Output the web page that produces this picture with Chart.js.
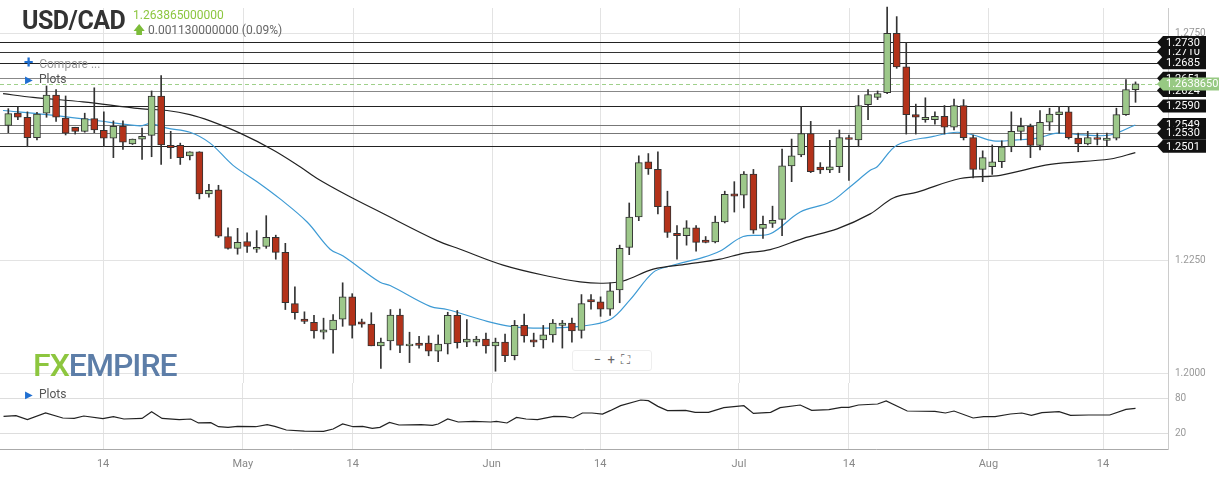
<!DOCTYPE html>
<html>
<head>
<meta charset="utf-8">
<script src="https://cdn.jsdelivr.net/npm/chart.js@4"></script>
<style>
  body{margin:0;background:#fff;font-family:Roboto,"Open Sans",sans-serif;}
  #wrap{position:relative;width:1219px;height:479px;overflow:hidden;}
  canvas{position:absolute;left:0;}
  #top{top:-5px;}
  #bot{top:370px;}
  .lbl{position:absolute;white-space:nowrap;}
</style>
</head>
<body>
<div id="wrap">
  <canvas id="top" width="1219" height="401"></canvas>
  <canvas id="bot" width="1219" height="109"></canvas>
  <div class="lbl" style="left:22px;top:6px;font-size:25px;font-weight:bold;color:#333;letter-spacing:-0.5px">USD/CAD</div>
  <div class="lbl" style="left:133px;top:8px;font-size:12px;color:#8cc63f">1.263865000000</div>
  <div class="lbl" style="left:133px;top:21px;font-size:12px;color:#666"><span style="color:#7cbc3a">&#129093;</span> 0.001130000000 (0.09%)</div>
  <div class="lbl" style="left:24px;top:52px;font-size:12px;color:#999"><span style="color:#1f6fd1;font-size:17px;font-weight:bold">+</span>&nbsp; Compare ...</div>
  <div class="lbl" style="left:25px;top:72px;font-size:12px;color:#555"><span style="color:#1f6fd1;font-size:10px">&#9654;</span>&nbsp; Plots</div>
  <div class="lbl" style="left:33px;top:346px;font-size:32px;font-weight:500;letter-spacing:-1px"><span style="color:#8dc63f">FX</span><span style="color:#5d7ea8">EMPIRE</span></div>
  <div class="lbl" style="left:572px;top:350px;width:78px;height:19px;border:1px solid #eee;border-radius:3px;background:#fff;font-size:13px;color:#666;text-align:center;line-height:18px">&minus; &nbsp;+ &nbsp;&#9974;</div>
  <div class="lbl" style="left:25px;top:387px;font-size:12px;color:#555"><span style="color:#1f6fd1;font-size:10px">&#9654;</span>&nbsp; Plots</div>
</div>
<script>
// candles, one per trading day (index 0..118)
const opens = [
  1.2547,1.2574,1.2565,1.2520,1.2574,1.2614,1.2563,1.2543,1.2534,1.2562,
  1.2536,1.2519,1.2545,1.2506,1.2517,1.2525,1.2612,1.2503,1.2503,1.2480,
  1.2489,1.2396,1.2405,1.2302,1.2276,1.2291,1.2274,1.2280,1.2300,1.2267,
  1.2154,1.2120,1.2113,1.2091,1.2096,1.2120,1.2169,1.2114,1.2109,1.2061,
  1.2072,1.2129,1.2061,1.2067,1.2067,1.2049,1.2065,1.2128,1.2069,1.2069,
  1.2076,1.2061,1.2069,1.2039,1.2106,1.2074,1.2074,1.2085,1.2106,1.2111,
  1.2095,1.2163,1.2158,1.2142,1.2184,1.2278,1.2345,1.2467,1.2450,1.2369,
  1.2309,1.2304,1.2321,1.2294,1.2290,1.2334,1.2396,1.2393,1.2440,1.2320,
  1.2331,1.2340,1.2458,1.2482,1.2529,1.2455,1.2449,1.2456,1.2520,1.2515,
  1.2593,1.2609,1.2619,1.2750,1.2676,1.2571,1.2560,1.2560,1.2567,1.2543,
  1.2591,1.2520,1.2450,1.2456,1.2467,1.2500,1.2534,1.2545,1.2503,1.2554,
  1.2571,1.2577,1.2519,1.2506,1.2520,1.2514,1.2519,1.2571,1.2626];
const highs = [
  1.2584,1.2588,1.2577,1.2576,1.2634,1.2626,1.2612,1.2543,1.2574,1.2630,
  1.2577,1.2557,1.2557,1.2517,1.2541,1.2623,1.2657,1.2534,1.2508,1.2489,
  1.2489,1.2417,1.2415,1.2321,1.2320,1.2310,1.2315,1.2348,1.2305,1.2287,
  1.2191,1.2136,1.2128,1.2122,1.2130,1.2200,1.2176,1.2120,1.2134,1.2078,
  1.2141,1.2142,1.2091,1.2082,1.2083,1.2085,1.2135,1.2139,1.2119,1.2082,
  1.2089,1.2078,1.2087,1.2117,1.2131,1.2089,1.2106,1.2119,1.2117,1.2122,
  1.2174,1.2174,1.2169,1.2200,1.2283,1.2376,1.2480,1.2485,1.2489,1.2402,
  1.2326,1.2337,1.2326,1.2302,1.2347,1.2402,1.2423,1.2445,1.2450,1.2347,
  1.2369,1.2495,1.2517,1.2589,1.2556,1.2465,1.2514,1.2537,1.2526,1.2613,
  1.2626,1.2623,1.2808,1.2787,1.2730,1.2594,1.2608,1.2577,1.2591,1.2605,
  1.2604,1.2526,1.2491,1.2504,1.2513,1.2577,1.2563,1.2550,1.2580,1.2585,
  1.2589,1.2589,1.2530,1.2534,1.2530,1.2530,1.2585,1.2648,1.2643];
const lows = [
  1.2531,1.2560,1.2500,1.2515,1.2565,1.2556,1.2526,1.2528,1.2532,1.2531,
  1.2500,1.2476,1.2494,1.2505,1.2472,1.2478,1.2461,1.2474,1.2461,1.2471,
  1.2385,1.2389,1.2300,1.2274,1.2263,1.2267,1.2267,1.2276,1.2252,1.2141,
  1.2120,1.2110,1.2078,1.2076,1.2045,1.2104,1.2078,1.2102,1.2061,1.2011,
  1.2052,1.2046,1.2024,1.2056,1.2039,1.2026,1.2043,1.2056,1.2059,1.2061,
  1.2045,1.2005,1.2026,1.2030,1.2069,1.2059,1.2056,1.2069,1.2056,1.2069,
  1.2078,1.2142,1.2126,1.2128,1.2156,1.2262,1.2337,1.2439,1.2352,1.2300,
  1.2252,1.2283,1.2270,1.2288,1.2288,1.2332,1.2356,1.2365,1.2309,1.2298,
  1.2322,1.2304,1.2423,1.2478,1.2443,1.2441,1.2443,1.2443,1.2426,1.2500,
  1.2560,1.2604,1.2617,1.2673,1.2528,1.2528,1.2554,1.2550,1.2528,1.2537,
  1.2515,1.2431,1.2423,1.2439,1.2454,1.2489,1.2515,1.2476,1.2493,1.2536,
  1.2530,1.2517,1.2489,1.2504,1.2504,1.2500,1.2515,1.2569,1.2598];
const closes = [
  1.2573,1.2565,1.2520,1.2572,1.2614,1.2565,1.2530,1.2534,1.2562,1.2537,
  1.2519,1.2545,1.2510,1.2517,1.2523,1.2612,1.2504,1.2498,1.2476,1.2489,
  1.2396,1.2404,1.2303,1.2276,1.2289,1.2280,1.2278,1.2300,1.2267,1.2156,
  1.2134,1.2115,1.2094,1.2096,1.2118,1.2169,1.2106,1.2109,1.2061,1.2069,
  1.2129,1.2062,1.2065,1.2062,1.2049,1.2065,1.2128,1.2068,1.2076,1.2076,
  1.2061,1.2069,1.2039,1.2106,1.2083,1.2069,1.2085,1.2111,1.2111,1.2094,
  1.2154,1.2158,1.2142,1.2182,1.2276,1.2345,1.2465,1.2451,1.2368,1.2311,
  1.2304,1.2321,1.2289,1.2289,1.2334,1.2395,1.2391,1.2440,1.2316,1.2329,
  1.2338,1.2458,1.2480,1.2529,1.2445,1.2449,1.2456,1.2520,1.2516,1.2591,
  1.2615,1.2617,1.2750,1.2676,1.2571,1.2565,1.2565,1.2567,1.2543,1.2591,
  1.2520,1.2450,1.2476,1.2467,1.2500,1.2534,1.2545,1.2503,1.2554,1.2572,
  1.2577,1.2520,1.2506,1.2520,1.2516,1.2519,1.2571,1.2626,1.2639];

// moving averages (x = candle index)
const fastX = [-0.55,4.05,8.87,13.79,14.84,16.62,19.02,21.12,23.53,26.04,28.45,31.28,33.69,35.05,38.92,39.97,44.16,45.94,50.13,52.22,54.94,59.86,63.01,65.1,67.51,69.29,72.74,74.52,76.93,79.76,82.9,86.04,88.13,90.23,90.96,93.06,96.83,99.34,101.02,103.11,105.62,107.72,109.81,112.53,115.36,117.98];
const fastY = [1.2580,1.2571,1.2559,1.2546,1.2551,1.2541,1.2532,1.2508,1.2459,1.2423,1.2385,1.2334,1.2274,1.2259,1.2201,1.2194,1.2148,1.2141,1.2115,1.2105,1.2100,1.2104,1.2119,1.2163,1.2223,1.2237,1.2256,1.2270,1.2302,1.2308,1.2356,1.2378,1.2412,1.2448,1.2456,1.2504,1.2523,1.2532,1.2526,1.2513,1.2515,1.2519,1.2530,1.2526,1.2526,1.2548];
const slowX = [-0.55,2.59,7.82,13.79,16.62,19.02,21.12,24.26,27.72,30.54,32.33,35.47,38.92,44.89,47.3,51.8,56.41,59.86,62.27,64.36,67.51,71.07,74.52,76.93,79.76,83.22,86.77,90.23,92.64,95.15,99.65,103.84,109.08,115.36,117.98];
const slowY = [1.2617,1.2609,1.2599,1.2584,1.2580,1.2571,1.2557,1.2530,1.2493,1.2456,1.2430,1.2393,1.2356,1.2293,1.2274,1.2239,1.2215,1.2202,1.2199,1.2204,1.2230,1.2241,1.2252,1.2265,1.2273,1.2298,1.2319,1.2352,1.2387,1.2400,1.2430,1.2437,1.2461,1.2473,1.2487];

// oscillator in the lower panel
const oscX = [-0.5,0.8,2.0,3.9,5.7,6.9,7.9,9.9,11.0,12.1,14.0,15.0,16.1,17.9,19.1,19.9,21.2,22.0,23.0,24.0,25.9,27.1,27.9,29.1,31.0,33.0,34.0,35.0,36.1,37.1,38.1,38.9,39.9,40.9,43.2,44.4,45.0,46.0,47.1,48.7,50.5,51.1,52.2,53.2,54.2,55.4,57.1,58.3,59.1,60.1,61.1,62.2,63.0,64.1,66.2,67.0,68.0,69.0,70.9,71.9,73.3,74.9,77.0,78.0,79.8,80.8,82.9,84.1,85.9,87.2,88.0,89.0,91.0,91.9,94.1,97.0,98.1,99.0,101.0,102.1,103.3,104.9,106.1,107.1,108.2,110.0,111.2,113.1,115.3,117.0,118.0];
const oscY = [49.3,50.5,43.5,55.3,46.5,45.8,50,45.3,48.8,44.7,45.8,57.6,45.8,43.5,44.7,37.7,38.2,31.1,29.9,31.7,31.1,34.7,31.7,25.3,23.5,22.9,27.1,35.9,31.1,31.7,28.1,29.9,38.8,34.1,34.7,33.5,35.9,44.7,39.4,40.5,39.4,40.5,37.7,47.6,44.7,43.5,49.3,48.8,46.5,55.3,55.3,53.5,59.4,68.2,78.2,77,67,59.4,60,56.4,56.4,64.7,68.2,54.6,56.4,64.7,69.4,60,61.1,65.2,65.2,69.4,71.2,76.5,58.8,58.2,55.3,58.8,46.5,48.8,48.8,53.5,55.3,51.1,55.8,57.6,51.1,51.8,51.8,61.7,63.4];

// date axis
const dateTicks = [9.92,24.55,36.05,50.6,61.96,76.48,88.0,102.6,114.6];
const dateLabels = ["14","May","14","Jun","14","Jul","14","Aug","14"];
const priceTicks = [1.2000,1.2250,1.2750];
const oscTicks = [20,80];

// horizontal levels + badges
const levels = [1.2730,1.2710,1.2685,1.2651,1.2624,1.2590,1.2549,1.2530,1.2501];
const levelColors = ["#222","#333","#222","#888","#888","#222","#777","#777","#222"];
const lastPrice = 1.263865;

const UP = "#9dc88a", DOWN = "#b3321a", EDGE = "#333";
const idx = opens.map((_, i) => i);
const X_MIN = -0.87, X_MAX = 121.4;

function pts(xs, ys){ return xs.map((x, i) => ({ x, y: ys[i] })); }

function badge(ctx, x, y, w, text, bg){
  const h = 13;
  ctx.fillStyle = bg;
  ctx.beginPath();
  ctx.moveTo(x - 6, y);
  ctx.lineTo(x, y - h/2);
  ctx.lineTo(x + w, y - h/2);
  ctx.lineTo(x + w, y + h/2);
  ctx.lineTo(x, y + h/2);
  ctx.closePath();
  ctx.fill();
  ctx.fillStyle = "#fff";
  ctx.font = "11px Roboto";
  ctx.textBaseline = "middle";
  ctx.textAlign = "left";
  ctx.fillText(text, x + 3, y + 0.5);
}

const levelsPlugin = {
  id: "levels",
  beforeDatasetsDraw(chart){
    const { ctx, scales: { x, y }, chartArea } = chart;
    ctx.save();
    // vertical date grid
    ctx.strokeStyle = "#e3e3e3";
    ctx.lineWidth = 1;
    dateTicks.forEach(v => {
      const px = Math.round(x.getPixelForValue(v)) + 0.5;
      ctx.beginPath(); ctx.moveTo(px, chartArea.top); ctx.lineTo(px, chartArea.bottom); ctx.stroke();
    });
    levels.forEach((v, i) => {
      const py = Math.round(y.getPixelForValue(v)) + 0.5;
      ctx.strokeStyle = levelColors[i];
      ctx.beginPath(); ctx.moveTo(0, py); ctx.lineTo(1160, py); ctx.stroke();
    });
    const ly = Math.round(y.getPixelForValue(lastPrice)) + 0.5;
    ctx.strokeStyle = "#9fd08a";
    ctx.setLineDash([4, 3]);
    ctx.beginPath(); ctx.moveTo(0, ly); ctx.lineTo(1160, ly); ctx.stroke();
    ctx.restore();
  },
  afterDraw(chart){
    const { ctx, scales: { y } } = chart;
    ctx.save();
    const order = [3, 4, 1, 0, 2, 5, 6, 7, 8];
    order.forEach(i => badge(ctx, 1163, y.getPixelForValue(levels[i]), 43, levels[i].toFixed(4), "#111"));
    badge(ctx, 1163, y.getPixelForValue(lastPrice), 56, lastPrice.toFixed(7), "#97c983");
    ctx.restore();
  }
};

new Chart(document.getElementById("top"), {
  type: "bar",
  data: {
    datasets: [
      { type: "line", data: pts(slowX, slowY), borderColor: "#222", borderWidth: 1.2, pointRadius: 0, tension: 0.35, order: 3 },
      { type: "line", data: pts(fastX, fastY), borderColor: "#3d9ad4", borderWidth: 1.2, pointRadius: 0, tension: 0.35, order: 3 },
      { data: idx.map(i => ({ x: i, y: [lows[i], highs[i]] })), backgroundColor: EDGE, barThickness: 1, grouped: false, clip: false, order: 2 },
      { data: idx.map(i => ({ x: i, y: [opens[i], closes[i]] })),
        backgroundColor: idx.map(i => closes[i] >= opens[i] ? UP : DOWN),
        borderColor: EDGE, borderWidth: 1, borderSkipped: false, barThickness: 7, grouped: false, order: 1 }
    ]
  },
  options: {
    responsive: false, animation: false, devicePixelRatio: 1,
    layout: { padding: 0 },
    plugins: { legend: { display: false }, tooltip: { enabled: false } },
    scales: {
      x: { type: "linear", min: X_MIN, max: X_MAX, offset: false, display: false },
      y: {
        position: "right", min: 1.1979, max: 1.2806,
        afterBuildTicks: s => { s.ticks = priceTicks.map(v => ({ value: v })); },
        ticks: { color: "#999", padding: 7, font: { size: 10, family: "Roboto" }, callback: v => v.toFixed(4) },
        grid: { color: "#e3e3e3", drawTicks: false },
        border: { display: true, color: "#ccc" },
        afterFit: s => { s.width = 51; }
      }
    }
  },
  plugins: [levelsPlugin]
});

new Chart(document.getElementById("bot"), {
  type: "line",
  data: { datasets: [{ data: pts(oscX, oscY), borderColor: "#222", borderWidth: 1.2, pointRadius: 0, tension: 0 }] },
  options: {
    responsive: false, animation: false, devicePixelRatio: 1,
    layout: { padding: 0 },
    plugins: { legend: { display: false }, tooltip: { enabled: false } },
    scales: {
      x: {
        type: "linear", min: X_MIN, max: X_MAX, offset: false,
        afterBuildTicks: s => { s.ticks = dateTicks.map(v => ({ value: v })); },
        ticks: {
          color: "#888", padding: 9, maxRotation: 0, autoSkip: false,
          font: { size: 11, family: "Roboto" },
          callback: (v, i) => dateLabels[i]
        },
        grid: { color: "#e3e3e3", drawTicks: false },
        border: { color: "#aaa" },
        afterFit: s => { s.height = 30; }
      },
      y: {
        position: "right", min: -8.2, max: 108.2,
        afterBuildTicks: s => { s.ticks = oscTicks.map(v => ({ value: v })); },
        ticks: { color: "#999", padding: 7, font: { size: 10, family: "Roboto" } },
        grid: { color: "#ddd", drawTicks: false },
        border: { display: true, color: "#ccc" },
        afterFit: s => { s.width = 51; }
      }
    }
  }
});
</script>
</body>
</html>
